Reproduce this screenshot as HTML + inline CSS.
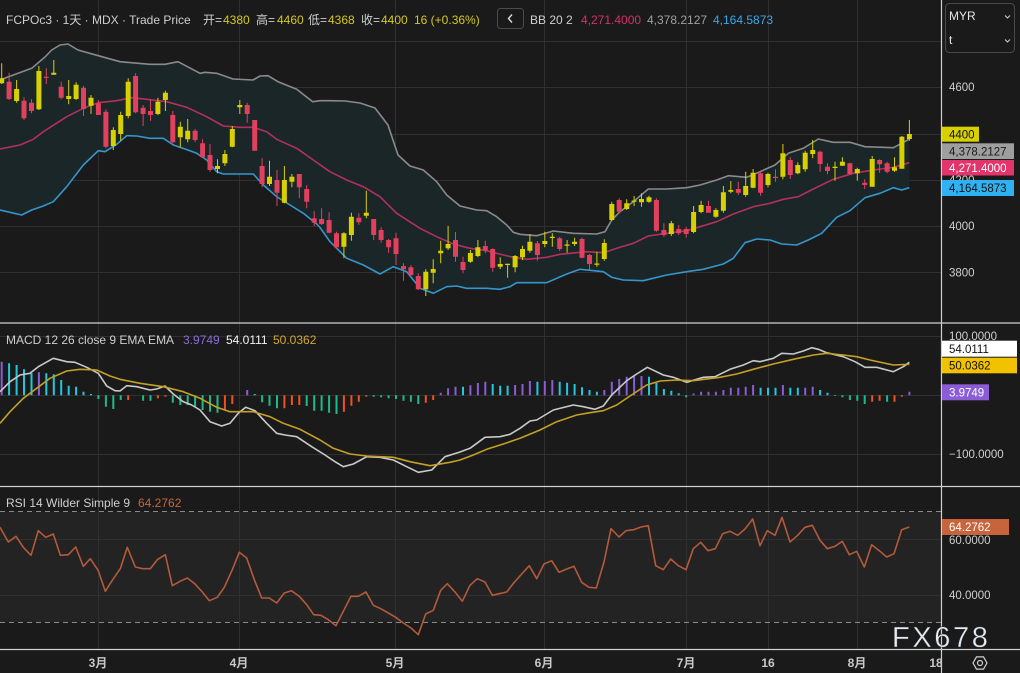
<!DOCTYPE html>
<html><head><meta charset="utf-8"><style>html,body{margin:0;padding:0;background:#1a1a1a;overflow:hidden}svg{display:block}</style></head>
<body>
<svg xmlns="http://www.w3.org/2000/svg" width="1020" height="673" viewBox="0 0 1020 673" font-family="'Liberation Sans','Noto Sans CJK SC',sans-serif">
<defs>
<clipPath id="ct"><rect x="0" y="0" width="941" height="323"/></clipPath>
<clipPath id="cm"><rect x="0" y="323" width="941" height="163"/></clipPath>
<clipPath id="cr"><rect x="0" y="486" width="941" height="163"/></clipPath>
<clipPath id="cb"><rect x="0" y="649" width="941" height="24"/></clipPath>
</defs>
<rect width="1020" height="673" fill="#1a1a1a"/>
<rect x="0" y="511.5" width="941" height="111" fill="#232323"/>

<!-- grid -->
<g stroke="#303030" stroke-width="1">
<path d="M98.5 0V649M239.5 0V649M395.5 0V649M544.5 0V649M686.5 0V649M768.5 0V649M857.5 0V649"/>
<path d="M0 41.5H941M0 87.5H941M0 134.5H941M0 180.5H941M0 226.5H941M0 272.5H941"/>
<path d="M0 336.5H941M0 395.5H941M0 454.5H941"/>
<path d="M0 539.5H941M0 595.5H941"/>
</g>
<path d="M0 511.5H941M0 622.5H941" stroke="#8a8a8a" stroke-width="1" stroke-dasharray="5,4"/>

<!-- price pane -->
<g clip-path="url(#ct)">
<polygon fill="#1b2628" points="0,80 13.3,75 31.7,68.3 45,57 51.7,50 60,45 68,44 78,50 98.3,55.7 120,61.7 150,64.3 165,64.3 178,61.7 200,73.3 205,72.3 216.7,73.3 233,79 253,80 260,76 268,75.7 278,81.7 296.7,89.3 312.7,101.7 320,100.7 330,100.7 345,101 360,103 375,108 388,125 398,155 410,166 423.3,170 436.7,181.7 446.7,195 460,206 476.7,210 486.7,210.7 496.7,216.7 506.7,225 513.3,232.3 520,234.3 536.7,235.7 553.3,231 573.3,233.3 596.7,234 605,231.7 611.7,220 620,211.7 633.3,201.7 648.3,189 666.7,189 686.7,187.7 700,185 716.7,180 728.3,175.7 746.7,177.3 760,171.7 775,165 788.3,153.3 803.3,148.3 818.3,139 833.3,142.3 850,142.3 865,146.7 893.3,147.7 901.7,143.3 909.3,139 909.3,187.7 901.7,190 893.3,187.7 880,193.3 865,197.7 850,210.7 836.7,217.3 821.7,233.3 808.3,240 796.7,245 781.7,244 770,240 756.7,239 745,242.7 733.3,258.3 723.3,264 703.3,269.3 686.7,271.7 666.7,275 643.3,280.7 623.3,280 611.7,277.3 603.3,271.7 580,269.3 566.7,274 546.7,282.7 516.7,282.7 510,286.7 500,289.3 486.7,288.3 466.7,288.3 456.7,286 446.7,286.7 433.3,293.3 420,288.3 406.7,271.7 393.3,266.7 380,274 363.3,265 346.7,258.3 336.7,248.3 330,241.7 320,227.5 316.7,224 303.3,213.3 290,205 276.7,196.7 263.3,185 253.3,174 223.3,174 216.7,171.7 206.7,160 196.7,153.3 185,149 173.3,145 163.3,138.3 150,138.3 136.7,136 126.7,135.7 116.7,144.3 105,151.7 98.3,150.7 83.3,165 66.7,186.7 53.3,201.7 43.3,206 31.7,210 21.7,215 0,210"/>
<polyline fill="none" stroke="#8a8a8a" stroke-width="1.6" stroke-linejoin="round" points="0,80 13.3,75 31.7,68.3 45,57 51.7,50 60,45 68,44 78,50 98.3,55.7 120,61.7 150,64.3 165,64.3 178,61.7 200,73.3 205,72.3 216.7,73.3 233,79 253,80 260,76 268,75.7 278,81.7 296.7,89.3 312.7,101.7 320,100.7 330,100.7 345,101 360,103 375,108 388,125 398,155 410,166 423.3,170 436.7,181.7 446.7,195 460,206 476.7,210 486.7,210.7 496.7,216.7 506.7,225 513.3,232.3 520,234.3 536.7,235.7 553.3,231 573.3,233.3 596.7,234 605,231.7 611.7,220 620,211.7 633.3,201.7 648.3,189 666.7,189 686.7,187.7 700,185 716.7,180 728.3,175.7 746.7,177.3 760,171.7 775,165 788.3,153.3 803.3,148.3 818.3,139 833.3,142.3 850,142.3 865,146.7 893.3,147.7 901.7,143.3 909.3,139"/>
<polyline fill="none" stroke="#b3305c" stroke-width="1.6" stroke-linejoin="round" points="0,149 20,145 33.3,139.3 43.3,131.7 66.7,116.7 83.3,108.3 98.3,102.7 116.7,100.7 131.7,97.7 146.7,99.3 166.7,101.7 186.7,107.3 206.7,116.7 223.3,126 240,127.3 253.3,127.3 266.7,131.7 276.7,139.3 296.7,148.3 313.3,160 330,171.7 346.7,180 363.3,186.7 380,196.7 396.7,213.3 420,228.3 436.7,236.7 453.3,244 470,248.3 486.7,250.7 503.3,255 513.3,257.3 526.7,259.3 546.7,257.3 560,254.3 586.7,251.7 603.3,252.7 620,247.3 633.3,243.3 648.3,236 666.7,233.3 686.7,230.7 716.7,221.7 733.3,214 753.3,206.7 770,203.3 783.3,199.3 798.3,196.7 813.3,189 833.3,179.3 853.3,173.3 873.3,170 893.3,167.3 909.3,162.7"/>
<polyline fill="none" stroke="#3596cc" stroke-width="1.6" stroke-linejoin="round" points="0,210 21.7,215 31.7,210 43.3,206 53.3,201.7 66.7,186.7 83.3,165 98.3,150.7 105,151.7 116.7,144.3 126.7,135.7 136.7,136 150,138.3 163.3,138.3 173.3,145 185,149 196.7,153.3 206.7,160 216.7,171.7 223.3,174 253.3,174 263.3,185 276.7,196.7 290,205 303.3,213.3 316.7,224 320,227.5 330,241.7 336.7,248.3 346.7,258.3 363.3,265 380,274 393.3,266.7 406.7,271.7 420,288.3 433.3,293.3 446.7,286.7 456.7,286 466.7,288.3 486.7,288.3 500,289.3 510,286.7 516.7,282.7 546.7,282.7 566.7,274 580,269.3 603.3,271.7 611.7,277.3 623.3,280 643.3,280.7 666.7,275 686.7,271.7 703.3,269.3 723.3,264 733.3,258.3 745,242.7 756.7,239 770,240 781.7,244 796.7,245 808.3,240 821.7,233.3 836.7,217.3 850,210.7 865,197.7 880,193.3 893.3,187.7 901.7,190 909.3,187.7"/>

<!-- yellow candles -->
<path stroke="#d8d000" stroke-width="1" fill="none" d="M1.7 63.3V84M16.6 80V102.7M38.9 66V110M53.8 60V74.7M68.7 80V104.3M76.1 82.3V100M91 95V114M113.3 127.3V150M120.7 111.7V140.7M128.2 78.3V118.3M157.9 97.7V115M165.4 90.7V111M180.3 121.7V147.3M187.7 119V142.3M217.5 159.3V173.3M224.9 150V166M232.3 126V147.3M239.8 100V114M269.5 160.7V186M284.4 166V203.3M291.9 174V187.3M343.9 232.3V258.3M351.4 212.7V240.7M366.3 190.7V218.3M425.8 269.3V296M433.2 259.3V283.3M440.7 240.7V263.3M448.1 226V250M470.4 250V262.7M477.9 240V257.3M500.2 257.3V269M507.6 263.7V277.7M515.1 255V272.3M522.5 245.7V260M529.9 234V252.7M544.8 231.7V247.3M552.3 233.3V246.7M567.1 240V252.7M574.6 237.7V246M596.9 251.7V266.7M604.3 239.3V260.7M611.8 201.7V220.7M626.7 199.3V210M634.1 196V206M641.5 193.3V206.7M649 195.7V202.7M671.3 221V236M693.6 206V233.3M701.1 200.7V213.3M715.9 208.3V217.7M723.4 186V212.7M730.8 181V193.3M745.7 171.7V196.7M753.1 169V188.3M768 172.7V187.3M782.9 144V179.3M797.8 162.3V174.3M805.2 150.7V171.7M812.7 140V158.3M835 161.7V180.7M842.4 157.3V166M857.3 167.7V180.7M872.2 156V186.7M894.5 157.3V171.7M901.9 136V168.7M909.4 120V140.7"/>
<path fill="#d8d000" d="M-0.8 78.3h5V83.3h-5ZM14.1 89h5V101h-5ZM36.4 71h5V109.3h-5ZM51.3 72.7h5V74.7h-5ZM66.2 96h5V99h-5ZM73.6 84.7h5V99h-5ZM88.5 97.7h5V105.7h-5ZM110.8 130h5V146h-5ZM118.2 115h5V134h-5ZM125.7 81.7h5V116h-5ZM155.4 101.7h5V114h-5ZM162.9 92.7h5V100h-5ZM177.8 126.7h5V137.3h-5ZM185.2 130.7h5V139.3h-5ZM215 166h5V169h-5ZM222.4 154h5V163.3h-5ZM229.8 129h5V146.7h-5ZM237.3 105h5V107.3h-5ZM267 176.7h5V184h-5ZM281.9 180h5V202.7h-5ZM289.4 176.7h5V181.7h-5ZM341.4 233.3h5V246.7h-5ZM348.9 216.7h5V235h-5ZM363.8 212.7h5V215.7h-5ZM423.3 271.7h5V289.3h-5ZM430.7 269h5V272.7h-5ZM438.2 250.7h5V253.3h-5ZM445.6 244h5V248.3h-5ZM467.9 253h5V261.7h-5ZM475.4 247.3h5V256h-5ZM497.7 264h5V266.7h-5ZM505.1 263.7h5V265h-5ZM512.6 256h5V267.3h-5ZM520 249h5V257.3h-5ZM527.4 241.7h5V250.7h-5ZM542.3 241h5V244h-5ZM549.8 236.8h5V238h-5ZM564.6 244.5h5V245.7h-5ZM572.1 241.7h5V244h-5ZM594.4 263.5h5V264.7h-5ZM601.8 243h5V259h-5ZM609.3 204h5V220h-5ZM624.2 203.3h5V209h-5ZM631.6 200.5h5V201.7h-5ZM639 199h5V202.3h-5ZM646.5 197.3h5V201.7h-5ZM668.8 223.3h5V234h-5ZM691.1 212h5V232h-5ZM698.6 205h5V212h-5ZM713.4 210h5V216.7h-5ZM720.9 192.3h5V210.7h-5ZM728.3 190h5V191.7h-5ZM743.2 186h5V195h-5ZM750.6 172.7h5V187.7h-5ZM765.5 174h5V185h-5ZM780.4 153.3h5V176.7h-5ZM795.3 165h5V173.3h-5ZM802.7 152.7h5V169.3h-5ZM810.2 150h5V154h-5ZM832.5 166.8h5V168h-5ZM839.9 161.7h5V165.7h-5ZM854.8 169h5V173.3h-5ZM869.7 159h5V186.7h-5ZM892 167.3h5V170.7h-5ZM899.4 136.7h5V168.7h-5ZM906.9 134h5V139h-5Z"/>

<!-- red candles -->
<path stroke="#e2405f" stroke-width="1" fill="none" d="M9.1 72.7V100M24 97.3V120M31.5 99.3V113.3M46.3 68.3V84M61.2 81.7V99.3M83.5 86V116M98.4 100V115M105.9 109.3V148.3M135.6 73.3V113.3M143.1 105V126M150.5 100V120.7M172.8 111V143.3M195.1 129V142.3M202.6 139.3V157.3M210 144V171.7M247.2 102.7V122.7M254.7 120V150.7M262.1 158.3V187.3M277 170V206M299.3 174V198.3M306.7 185V208.3M314.2 211V226M321.6 208.3V225M329.1 212.3V233.3M336.5 231.7V248.3M358.8 213.3V225M373.7 219V240M381.1 227.3V242.7M388.6 239V252.7M396 232.7V265M403.5 263.3V280.7M410.9 265V276M418.3 273.3V290M455.5 232V261.7M463 256.7V273.3M485.3 240.7V253.3M492.7 248.3V271.7M537.4 241V260.7M559.7 236.7V251M582 237.7V258.3M589.5 254V270M619.2 198.3V212.7M656.4 198.3V231.7M663.9 223.3V236.7M678.7 225V235M686.2 226.7V237.7M708.5 200.7V212.7M738.3 181.7V195M760.6 171.7V195.7M775.5 169.3V181.7M790.3 157.3V179M820.1 150.7V171.7M827.5 163.3V174.3M849.9 162.7V175M864.7 179.3V189M879.6 159.3V172.7M887.1 161.7V173.3"/>
<path fill="#e2405f" d="M6.6 81.7h5V99h-5ZM21.5 100.7h5V118.3h-5ZM29 102.7h5V111h-5ZM43.8 76.7h5V77.9h-5ZM58.7 86.7h5V97.7h-5ZM81 87.7h5V109h-5ZM95.9 103.3h5V115h-5ZM103.4 111.7h5V146.7h-5ZM133.1 76h5V112.3h-5ZM140.6 107.7h5V114h-5ZM148 111h5V115h-5ZM170.3 115h5V142.3h-5ZM192.6 130.7h5V140h-5ZM200.1 143.3h5V157.3h-5ZM207.5 155h5V170h-5ZM244.7 105h5V114h-5ZM252.2 120h5V150.7h-5ZM259.6 166h5V184h-5ZM274.5 180h5V192.7h-5ZM296.8 174h5V187.3h-5ZM304.2 189h5V201.7h-5ZM311.7 218.3h5V222.7h-5ZM319.1 219h5V224h-5ZM326.6 220h5V232.7h-5ZM334 233.3h5V247.3h-5ZM356.3 217.7h5V222.3h-5ZM371.2 219h5V235h-5ZM378.6 230h5V240h-5ZM386.1 240h5V247.3h-5ZM393.5 238.3h5V254h-5ZM401 266h5V269.3h-5ZM408.4 267.3h5V275h-5ZM415.8 276h5V289.3h-5ZM453 240h5V256.7h-5ZM460.5 262h5V270h-5ZM482.8 246h5V250.7h-5ZM490.2 249h5V267.7h-5ZM534.9 243.3h5V255h-5ZM557.2 238.3h5V249h-5ZM579.5 239h5V257.7h-5ZM587 255h5V264h-5ZM616.7 200h5V211.7h-5ZM653.9 200h5V230.7h-5ZM661.4 230h5V235h-5ZM676.2 229h5V233.3h-5ZM683.7 229h5V234h-5ZM706 206h5V212.7h-5ZM735.8 189h5V192.7h-5ZM758.1 173.3h5V192.7h-5ZM773 176.8h5V178h-5ZM787.8 160h5V175h-5ZM817.6 151.7h5V164h-5ZM825 166.7h5V171h-5ZM847.4 163.3h5V174h-5ZM862.2 182.7h5V185h-5ZM877.1 160h5V164.3h-5ZM884.6 163.3h5V171.7h-5Z"/>
</g>

<!-- MACD pane -->
<g clip-path="url(#cm)">
<path fill="#8a5cd6" d="M0.7 361.7h2V395.3h-2ZM37.9 372.3h2V395.3h-2ZM246.2 390h2V395.3h-2ZM439.7 392.7h2V395.3h-2ZM447.1 388.3h2V395.3h-2ZM454.5 386.7h2V395.3h-2ZM469.4 385.3h2V395.3h-2ZM476.9 383h2V395.3h-2ZM484.3 381.7h2V395.3h-2ZM514.1 385h2V395.3h-2ZM521.5 384h2V395.3h-2ZM528.9 381h2V395.3h-2ZM543.8 381h2V395.3h-2ZM551.3 380h2V395.3h-2ZM603.3 390h2V395.3h-2ZM610.8 381.7h2V395.3h-2ZM618.2 379h2V395.3h-2ZM625.7 376.7h2V395.3h-2ZM633.1 376h2V395.3h-2ZM640.5 376h2V395.3h-2ZM692.6 393.5h2V395.3h-2ZM700.1 391.7h2V395.3h-2ZM707.5 391.7h2V395.3h-2ZM714.9 391.7h2V395.3h-2ZM722.4 390h2V395.3h-2ZM729.8 387.7h2V395.3h-2ZM737.3 387.7h2V395.3h-2ZM744.7 386.7h2V395.3h-2ZM752.1 385h2V395.3h-2ZM781.9 385h2V395.3h-2ZM804.2 387.7h2V395.3h-2ZM811.7 386.7h2V395.3h-2ZM908.4 391.7h2V395.3h-2Z"/>
<path fill="#22c7dc" d="M8.1 363.3h2V395.3h-2ZM15.6 365h2V395.3h-2ZM23 369.3h2V395.3h-2ZM30.5 373.3h2V395.3h-2ZM45.3 373.3h2V395.3h-2ZM52.8 374.3h2V395.3h-2ZM60.2 380h2V395.3h-2ZM67.7 385.7h2V395.3h-2ZM75.1 386.7h2V395.3h-2ZM82.5 391.7h2V395.3h-2ZM90 394h2V395.3h-2ZM253.7 394h2V395.3h-2ZM462 386.7h2V395.3h-2ZM491.7 384h2V395.3h-2ZM499.2 385.7h2V395.3h-2ZM506.6 385.7h2V395.3h-2ZM536.4 381.7h2V395.3h-2ZM558.7 381.7h2V395.3h-2ZM566.1 382.7h2V395.3h-2ZM573.6 384h2V395.3h-2ZM581 387.3h2V395.3h-2ZM588.5 390h2V395.3h-2ZM595.9 391.7h2V395.3h-2ZM648 376.7h2V395.3h-2ZM655.4 382.7h2V395.3h-2ZM662.9 389h2V395.3h-2ZM670.3 390.7h2V395.3h-2ZM677.7 393.3h2V395.3h-2ZM759.6 387.7h2V395.3h-2ZM767 387.7h2V395.3h-2ZM774.5 387.7h2V395.3h-2ZM789.3 387.7h2V395.3h-2ZM796.8 387.7h2V395.3h-2ZM819.1 390h2V395.3h-2ZM826.5 392.7h2V395.3h-2Z"/>
<path fill="#20b98a" d="M97.4 395.3h2V399h-2ZM104.9 395.3h2V406.7h-2ZM112.3 395.3h2V409h-2ZM119.7 395.3h2V400h-2ZM142.1 395.3h2V400.7h-2ZM149.5 395.3h2V400.7h-2ZM171.8 395.3h2V402.7h-2ZM179.3 395.3h2V405h-2ZM186.7 395.3h2V405h-2ZM194.1 395.3h2V406.7h-2ZM201.6 395.3h2V410h-2ZM209 395.3h2V411.7h-2ZM216.5 395.3h2V412.7h-2ZM261.1 395.3h2V402.3h-2ZM268.5 395.3h2V405.7h-2ZM276 395.3h2V408.3h-2ZM305.7 395.3h2V406h-2ZM313.2 395.3h2V410.7h-2ZM320.6 395.3h2V410.7h-2ZM328.1 395.3h2V412.7h-2ZM335.5 395.3h2V414h-2ZM372.7 395.3h2V396.7h-2ZM380.1 395.3h2V397.3h-2ZM387.6 395.3h2V398.3h-2ZM395 395.3h2V399h-2ZM402.5 395.3h2V400.7h-2ZM409.9 395.3h2V401.7h-2ZM417.3 395.3h2V404h-2ZM685.2 395.3h2V397.3h-2ZM834 395.3h2V396h-2ZM841.4 395.3h2V397.3h-2ZM848.9 395.3h2V400h-2ZM856.3 395.3h2V400.7h-2ZM863.7 395.3h2V404h-2ZM886.1 395.3h2V401.7h-2Z"/>
<path fill="#f0521e" d="M127.2 395.3h2V400h-2ZM156.9 395.3h2V398.3h-2ZM164.4 395.3h2V396.7h-2ZM223.9 395.3h2V410h-2ZM231.3 395.3h2V404h-2ZM283.4 395.3h2V408.3h-2ZM290.9 395.3h2V405h-2ZM298.3 395.3h2V405h-2ZM342.9 395.3h2V411.7h-2ZM350.4 395.3h2V405.7h-2ZM357.8 395.3h2V401.7h-2ZM365.3 395.3h2V396.7h-2ZM424.8 395.3h2V402.7h-2ZM432.2 395.3h2V400h-2ZM871.2 395.3h2V401.7h-2ZM878.6 395.3h2V400.7h-2ZM893.5 395.3h2V401.7h-2ZM900.9 395.3h2V396.7h-2Z"/>
<polyline fill="none" stroke="#c9c9c9" stroke-width="1.6" stroke-linejoin="round" points="0,391.7 10,381.7 20,375 30,373.3 38.3,366.7 53.3,358.3 66.7,361.7 75,362.3 86.7,367.3 98.3,373.3 106.7,386 115,390.7 120,391 126.7,385.7 136.7,386.7 150,390 156.7,389 165,386 173.3,394 183.3,401.7 191.7,405 200,410 210,421.7 221.7,426 230,423.3 238.3,413.3 245.7,407.3 255,410.7 266.7,423.3 276.7,433.3 285,435 296.7,436.7 311.7,446.7 325,455 335,461.7 343.3,466.7 353.3,464 366.7,456.7 380,457.3 393.3,460 406.7,466.7 418.3,472.3 431.7,470 445,456.7 460,452 470,448.3 485,437.3 500,436.7 510,434.3 520,428.3 530,421 536.7,420 553.3,410 573.3,405 583.3,406.7 595,409.3 603.3,406 611.7,395 626.7,380.7 636.7,374 647.3,367.3 663.3,375 673.3,377.3 686.7,382.3 703.3,377.3 715,376.7 730,369.3 743.3,365 753.3,360.7 760,361.7 773.3,358.3 781.7,353.3 793.3,354 803.3,351 811.7,347.7 818.3,349.3 826.7,352.7 843.3,356.7 855,361.7 865,367.3 876.7,367.3 893.3,371.7 903.3,366.7 909.3,362.3"/>
<polyline fill="none" stroke="#c4a024" stroke-width="1.6" stroke-linejoin="round" points="0,423.3 10,411.7 23.3,398.3 36.7,388.3 50,378.3 66.7,371 80,369.3 96.7,370 110,376 120,379.3 140,383.3 163.3,386.7 183.3,391.7 200,398.3 216.7,407.3 230,411.7 253.3,411.7 270,416.7 283.3,423.3 300,429.3 320,440 333.3,448.3 350,454 366.7,456 393.3,457.3 410,461.7 430,465.7 450,462.3 460,460 473.3,455 486.7,449.3 503.3,444 520,438.3 540,430 556.7,421.7 576.7,415 590,412.7 603.3,410.7 616.7,405 630,396 646.7,385 660,381 676.7,380 693.3,380.7 720,377.3 736.7,374 753.3,369.3 773.3,364 793.3,359.3 813.3,355 826.7,353.3 843.3,355 856.7,356.7 870,360 893.3,365 909.3,364.3"/>
</g>

<!-- RSI pane -->
<g clip-path="url(#cr)">
<polyline fill="none" stroke="#b35a3a" stroke-width="1.6" stroke-linejoin="round" points="0,527.3 8.3,542 16,536.3 23.3,547.3 31,555.3 38.3,530.7 45.7,537.3 53.3,534 60.3,555.3 68.3,554.7 75.7,547 83.3,566.3 90.3,558.7 98.3,570.7 105.3,591.3 112.7,579.7 120.3,568.7 127.3,547.3 135.3,567 142.7,568.7 150.3,568.7 157.3,559.7 165.3,554.7 172.3,585.7 180,581.3 187.3,578 194.7,583.7 202.3,592 209.3,600.7 217.3,597.3 224.3,587.3 232.3,569.7 239.3,552.3 246.7,558 254.3,579.7 261.7,598 269.3,598 276.7,603 284.3,593 291.3,590.7 299.3,596.3 306.7,604.7 313.7,614.7 321,615.3 328.3,619.7 336,625.7 343.3,611.3 351,596.3 358.3,596.3 366,592 373.3,605.3 380.7,608.7 388.3,613 395.7,617.3 403.3,623 411,628 418.3,634.7 425.7,614 433.3,610.3 440.7,590.3 447.3,583.7 455,592 462.3,601.3 470,585.3 477.3,578.7 485,582 492.3,595.3 499.3,593.7 506.7,592 514.3,582.3 521.7,574 529.3,565.7 536.7,578.7 544,564 551.7,560.7 559,572.3 566.7,569 574,566.3 581.7,582.3 589,587.3 596.3,588 604,562 611,528.7 619,537 626,530.7 633.7,529.7 641,527 648.3,525.7 655.7,565.7 663.3,569.7 670.7,559 678.3,565.7 686,569.7 693.3,548.7 700.7,542.3 708,550.7 715.3,548.7 722.7,533.7 730,531.3 737.7,535.3 745,529 752.7,519 760,545.7 767.3,530.7 775,535.3 782,517.3 790,542 797.3,535.7 805,527.3 812.3,525.3 820,540.3 827.3,548.7 835,546.3 842.3,541.3 849.3,554.7 856.7,551.3 864.3,567 871.7,544.7 879.3,550.7 886.7,557 894,553.7 901.7,529.7 909.3,527"/>
</g>

<!-- separators -->
<g stroke="#d0d0d0" stroke-width="1.2">
<path d="M0 323H1020M0 486.5H1020M0 649.5H1020M941.5 0V673"/>
</g>

<!-- header texts -->
<g font-size="12">
<text x="6" y="24" fill="#cfcfcf">FCPOc3 · 1天 · MDX · Trade Price</text>
<text x="203" y="24" fill="#cfcfcf">开=</text><text x="223" y="24" fill="#d4c81c">4380</text>
<text x="256" y="24" fill="#cfcfcf">高=</text><text x="277" y="24" fill="#d4c81c">4460</text>
<text x="308" y="24" fill="#cfcfcf">低=</text><text x="328" y="24" fill="#d4c81c">4368</text>
<text x="361" y="24" fill="#cfcfcf">收=</text><text x="381" y="24" fill="#d4c81c">4400</text>
<text x="414" y="24" fill="#d4c81c">16 (+0.36%)</text>
<text x="530" y="24" fill="#cfcfcf">BB 20 2</text>
<text x="581" y="24" fill="#d6306a">4,271.4000</text>
<text x="647" y="24" fill="#a0a0a0">4,378.2127</text>
<text x="713" y="24" fill="#3aa8e8">4,164.5873</text>
<text x="6" y="344" fill="#cfcfcf">MACD 12 26 close 9 EMA EMA</text>
<text x="183" y="344" fill="#8e6ad8">3.9749</text>
<text x="226" y="344" fill="#f4f4f4">54.0111</text>
<text x="273" y="344" fill="#d4a830">50.0362</text>
<text x="6" y="507" fill="#cfcfcf">RSI 14 Wilder Simple 9</text>
<text x="138" y="507" fill="#c8643c">64.2762</text>
</g>
<rect x="497.5" y="8.5" width="26" height="20" rx="3" fill="none" stroke="#4a4a4a"/>
<polyline points="512,14.5 508.5,18.5 512,22.5" fill="none" stroke="#dddddd" stroke-width="1.4"/>

<!-- dropdown -->
<rect x="945.5" y="3.5" width="69" height="49" rx="4" fill="#1a1a1a" stroke="#4a4a4a"/>
<text x="949" y="20" font-size="12" fill="#e6e6e6">MYR</text>
<text x="949" y="44" font-size="12" fill="#e6e6e6">t</text>
<polyline points="1005,15.5 1007.5,18 1010,15.5" fill="none" stroke="#cccccc" stroke-width="1.1"/>
<polyline points="1005,39.5 1007.5,42 1010,39.5" fill="none" stroke="#cccccc" stroke-width="1.1"/>

<!-- right axis labels -->
<g font-size="11.5" fill="#cfcfcf">
<text x="949" y="91">4600</text>
<text x="949" y="138">4400</text>
<text x="949" y="184">4200</text>
<text x="949" y="230">4000</text>
<text x="949" y="276.5">3800</text>
<text x="949" y="340">100.0000</text>
<text x="949" y="458">−100.0000</text>
<text x="949" y="544">60.0000</text>
<text x="949" y="599">40.0000</text>
</g>
<rect x="942" y="126.7" width="37" height="15" fill="#d8d000"/>
<text x="949" y="138.3" font-size="11.5" fill="#111">4400</text>
<rect x="942" y="143.3" width="72" height="15.7" fill="#9e9e9e"/>
<text x="949" y="155.3" font-size="11.5" fill="#1a1a1a">4,378.2127</text>
<rect x="942" y="160" width="72" height="15.5" fill="#e2356b"/>
<text x="949" y="172" font-size="11.5" fill="#ffffff">4,271.4000</text>
<rect x="942" y="180" width="72" height="16" fill="#2eb2f2"/>
<text x="949" y="192.2" font-size="11.5" fill="#111">4,164.5873</text>
<rect x="942" y="340.7" width="75" height="16" fill="#ffffff"/>
<text x="949" y="352.8" font-size="11.5" fill="#111">54.0111</text>
<rect x="942" y="357.7" width="75" height="15.6" fill="#f2c200"/>
<text x="949" y="369.6" font-size="11.5" fill="#111">50.0362</text>
<rect x="942" y="384.3" width="47" height="16" fill="#8a5cd6"/>
<text x="949" y="396.4" font-size="11.5" fill="#ffffff">3.9749</text>
<rect x="942" y="519" width="67" height="16" fill="#c8643c"/>
<text x="949" y="531.1" font-size="11.5" fill="#ffffff">64.2762</text>

<!-- bottom axis -->
<g font-size="12" font-weight="bold" fill="#c8c8c8" text-anchor="middle" clip-path="url(#cb)">
<text x="98" y="667">3月</text>
<text x="239" y="667">4月</text>
<text x="395" y="667">5月</text>
<text x="544" y="667">6月</text>
<text x="686" y="667">7月</text>
<text x="768" y="667">16</text>
<text x="857" y="667">8月</text>
<text x="936" y="667">18</text>
</g>
<polygon points="987,663 983.5,669.1 976.5,669.1 973,663 976.5,656.9 983.5,656.9" fill="none" stroke="#cfcfcf" stroke-width="1.2"/>
<circle cx="980" cy="663" r="2.5" fill="none" stroke="#cfcfcf" stroke-width="1.2"/>

<!-- watermark -->
<text x="892" y="647" font-size="29" letter-spacing="2.6" fill="#e4eaf0" stroke="#2a2f36" stroke-width="0.4">FX678</text>
</svg>
</body></html>
